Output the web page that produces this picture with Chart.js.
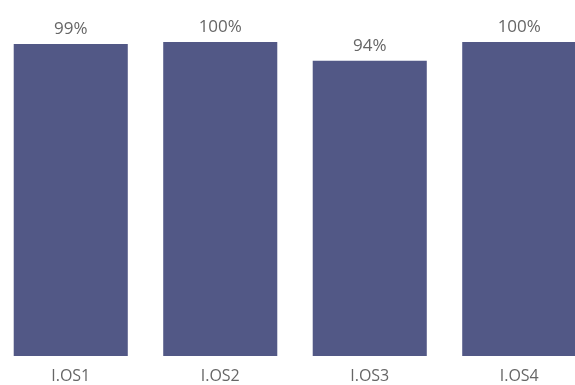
<!DOCTYPE html>
<html>
<head>
<meta charset="utf-8">
<script src="https://cdn.jsdelivr.net/npm/chart.js@4"></script>
<style>
    html, body { margin: 0; padding: 0; background: #fff; }
    #box { position: relative; width: 575px; height: 385px; overflow: hidden; }
    #chart { position: absolute; left: -4px; top: 0; }
</style>
</head>
<body>
<div id="box"><canvas id="chart" width="598" height="389"></canvas></div>
<script>
// 카테고리와 값
const categories = ['I.OS1', 'I.OS2', 'I.OS3', 'I.OS4'];
const values = [99.4, 100, 94, 100];

const barColor = '#525886';
const textColor = '#666666';
const fontFamily = '"Segoe UI", "Open Sans", "Noto Sans", sans-serif';

// 막대 위 값 표시
const valueLabels = {
    id: 'valueLabels',
    afterDatasetsDraw(chart) {
        const ctx = chart.ctx;
        const meta = chart.getDatasetMeta(0);
        ctx.save();
        ctx.fillStyle = textColor;
        ctx.font = '17px ' + fontFamily;
        ctx.textAlign = 'center';
        ctx.textBaseline = 'bottom';
        meta.data.forEach((bar, i) => {
            ctx.fillText(Math.round(values[i]) + '%', bar.x, bar.y - 6);
        });
        ctx.restore();
    }
};

new Chart(document.getElementById('chart').getContext('2d'), {
    type: 'bar',
    data: {
        labels: categories,
        datasets: [{
            data: values,
            backgroundColor: barColor,
            barPercentage: 1,
            categoryPercentage: 0.763
        }]
    },
    options: {
        responsive: false,
        animation: false,
        layout: { padding: { top: 42, left: 0, right: 0, bottom: 0 } },
        plugins: {
            legend: { display: false },
            tooltip: { enabled: false }
        },
        scales: {
            x: {
                grid: { display: false, drawTicks: false },
                border: { display: false },
                afterFit(scale) { scale.height = 33; },
                ticks: {
                    color: textColor,
                    padding: 11,
                    font: { family: fontFamily, size: 16 }
                }
            },
            y: {
                display: false,
                min: 0,
                max: 100
            }
        }
    },
    plugins: [valueLabels]
});
</script>
</body>
</html>
